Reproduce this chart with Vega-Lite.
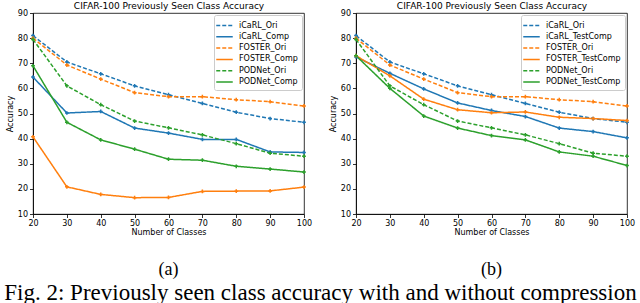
{
  "$schema": "https://vega.github.io/schema/vega-lite/v6.json",
  "padding": {"left": 4, "top": 0, "right": 0, "bottom": 0},
  "background": "white",
  "spacing": 15,
  "title": {"text": "Fig. 2: Previously seen class accuracy with and without compression", "orient": "bottom", "anchor": "middle", "font": "Liberation Serif", "fontSize": 23, "fontWeight": "normal", "color": "black", "offset": 3},
  "datasets": {
    "d": [
      {"panel": "a", "series": "iCaRL_Ori", "classes": 20, "acc": 81},
      {"panel": "a", "series": "iCaRL_Ori", "classes": 30, "acc": 70.5},
      {"panel": "a", "series": "iCaRL_Ori", "classes": 40, "acc": 65.8},
      {"panel": "a", "series": "iCaRL_Ori", "classes": 50, "acc": 61},
      {"panel": "a", "series": "iCaRL_Ori", "classes": 60, "acc": 57.5},
      {"panel": "a", "series": "iCaRL_Ori", "classes": 70, "acc": 54},
      {"panel": "a", "series": "iCaRL_Ori", "classes": 80, "acc": 50.5},
      {"panel": "a", "series": "iCaRL_Ori", "classes": 90, "acc": 48},
      {"panel": "a", "series": "iCaRL_Ori", "classes": 100, "acc": 46.5},
      {"panel": "a", "series": "iCaRL_Comp", "classes": 20, "acc": 64.5},
      {"panel": "a", "series": "iCaRL_Comp", "classes": 30, "acc": 50.2},
      {"panel": "a", "series": "iCaRL_Comp", "classes": 40, "acc": 50.8},
      {"panel": "a", "series": "iCaRL_Comp", "classes": 50, "acc": 44.2},
      {"panel": "a", "series": "iCaRL_Comp", "classes": 60, "acc": 42.2},
      {"panel": "a", "series": "iCaRL_Comp", "classes": 70, "acc": 39.7},
      {"panel": "a", "series": "iCaRL_Comp", "classes": 80, "acc": 39.7},
      {"panel": "a", "series": "iCaRL_Comp", "classes": 90, "acc": 34.7},
      {"panel": "a", "series": "iCaRL_Comp", "classes": 100, "acc": 34.5},
      {"panel": "a", "series": "FOSTER_Ori", "classes": 20, "acc": 80},
      {"panel": "a", "series": "FOSTER_Ori", "classes": 30, "acc": 69.3},
      {"panel": "a", "series": "FOSTER_Ori", "classes": 40, "acc": 63.7},
      {"panel": "a", "series": "FOSTER_Ori", "classes": 50, "acc": 58.3},
      {"panel": "a", "series": "FOSTER_Ori", "classes": 60, "acc": 56.7},
      {"panel": "a", "series": "FOSTER_Ori", "classes": 70, "acc": 56.7},
      {"panel": "a", "series": "FOSTER_Ori", "classes": 80, "acc": 55.5},
      {"panel": "a", "series": "FOSTER_Ori", "classes": 90, "acc": 54.7},
      {"panel": "a", "series": "FOSTER_Ori", "classes": 100, "acc": 53},
      {"panel": "a", "series": "FOSTER_Comp", "classes": 20, "acc": 40.7},
      {"panel": "a", "series": "FOSTER_Comp", "classes": 30, "acc": 20.8},
      {"panel": "a", "series": "FOSTER_Comp", "classes": 40, "acc": 17.8},
      {"panel": "a", "series": "FOSTER_Comp", "classes": 50, "acc": 16.5},
      {"panel": "a", "series": "FOSTER_Comp", "classes": 60, "acc": 16.6},
      {"panel": "a", "series": "FOSTER_Comp", "classes": 70, "acc": 19},
      {"panel": "a", "series": "FOSTER_Comp", "classes": 80, "acc": 19.1},
      {"panel": "a", "series": "FOSTER_Comp", "classes": 90, "acc": 19.2},
      {"panel": "a", "series": "FOSTER_Comp", "classes": 100, "acc": 20.7},
      {"panel": "a", "series": "PODNet_Ori", "classes": 20, "acc": 79.5},
      {"panel": "a", "series": "PODNet_Ori", "classes": 30, "acc": 61},
      {"panel": "a", "series": "PODNet_Ori", "classes": 40, "acc": 53.5},
      {"panel": "a", "series": "PODNet_Ori", "classes": 50, "acc": 47},
      {"panel": "a", "series": "PODNet_Ori", "classes": 60, "acc": 44.3},
      {"panel": "a", "series": "PODNet_Ori", "classes": 70, "acc": 41.5},
      {"panel": "a", "series": "PODNet_Ori", "classes": 80, "acc": 38},
      {"panel": "a", "series": "PODNet_Ori", "classes": 90, "acc": 34.2},
      {"panel": "a", "series": "PODNet_Ori", "classes": 100, "acc": 33},
      {"panel": "a", "series": "PODNet_Comp", "classes": 20, "acc": 69},
      {"panel": "a", "series": "PODNet_Comp", "classes": 30, "acc": 46.5},
      {"panel": "a", "series": "PODNet_Comp", "classes": 40, "acc": 39.5},
      {"panel": "a", "series": "PODNet_Comp", "classes": 50, "acc": 35.8},
      {"panel": "a", "series": "PODNet_Comp", "classes": 60, "acc": 31.8},
      {"panel": "a", "series": "PODNet_Comp", "classes": 70, "acc": 31.4},
      {"panel": "a", "series": "PODNet_Comp", "classes": 80, "acc": 29},
      {"panel": "a", "series": "PODNet_Comp", "classes": 90, "acc": 27.9},
      {"panel": "a", "series": "PODNet_Comp", "classes": 100, "acc": 26.7},
      {"panel": "b", "series": "iCaRL_Ori", "classes": 20, "acc": 81},
      {"panel": "b", "series": "iCaRL_Ori", "classes": 30, "acc": 70.5},
      {"panel": "b", "series": "iCaRL_Ori", "classes": 40, "acc": 65.8},
      {"panel": "b", "series": "iCaRL_Ori", "classes": 50, "acc": 61},
      {"panel": "b", "series": "iCaRL_Ori", "classes": 60, "acc": 57.5},
      {"panel": "b", "series": "iCaRL_Ori", "classes": 70, "acc": 54},
      {"panel": "b", "series": "iCaRL_Ori", "classes": 80, "acc": 50.5},
      {"panel": "b", "series": "iCaRL_Ori", "classes": 90, "acc": 48},
      {"panel": "b", "series": "iCaRL_Ori", "classes": 100, "acc": 46.5},
      {"panel": "b", "series": "iCaRL_TestComp", "classes": 20, "acc": 72.5},
      {"panel": "b", "series": "iCaRL_TestComp", "classes": 30, "acc": 66},
      {"panel": "b", "series": "iCaRL_TestComp", "classes": 40, "acc": 59.8},
      {"panel": "b", "series": "iCaRL_TestComp", "classes": 50, "acc": 54.2},
      {"panel": "b", "series": "iCaRL_TestComp", "classes": 60, "acc": 51.2},
      {"panel": "b", "series": "iCaRL_TestComp", "classes": 70, "acc": 48.8},
      {"panel": "b", "series": "iCaRL_TestComp", "classes": 80, "acc": 44.2},
      {"panel": "b", "series": "iCaRL_TestComp", "classes": 90, "acc": 42.8},
      {"panel": "b", "series": "iCaRL_TestComp", "classes": 100, "acc": 40.3},
      {"panel": "b", "series": "FOSTER_Ori", "classes": 20, "acc": 80},
      {"panel": "b", "series": "FOSTER_Ori", "classes": 30, "acc": 69.3},
      {"panel": "b", "series": "FOSTER_Ori", "classes": 40, "acc": 63.7},
      {"panel": "b", "series": "FOSTER_Ori", "classes": 50, "acc": 58.3},
      {"panel": "b", "series": "FOSTER_Ori", "classes": 60, "acc": 56.7},
      {"panel": "b", "series": "FOSTER_Ori", "classes": 70, "acc": 56.7},
      {"panel": "b", "series": "FOSTER_Ori", "classes": 80, "acc": 55.5},
      {"panel": "b", "series": "FOSTER_Ori", "classes": 90, "acc": 54.7},
      {"panel": "b", "series": "FOSTER_Ori", "classes": 100, "acc": 53},
      {"panel": "b", "series": "FOSTER_TestComp", "classes": 20, "acc": 73},
      {"panel": "b", "series": "FOSTER_TestComp", "classes": 30, "acc": 65},
      {"panel": "b", "series": "FOSTER_TestComp", "classes": 40, "acc": 55.7},
      {"panel": "b", "series": "FOSTER_TestComp", "classes": 50, "acc": 51.5},
      {"panel": "b", "series": "FOSTER_TestComp", "classes": 60, "acc": 50.3},
      {"panel": "b", "series": "FOSTER_TestComp", "classes": 70, "acc": 50.6},
      {"panel": "b", "series": "FOSTER_TestComp", "classes": 80, "acc": 48.5},
      {"panel": "b", "series": "FOSTER_TestComp", "classes": 90, "acc": 48},
      {"panel": "b", "series": "FOSTER_TestComp", "classes": 100, "acc": 47.2},
      {"panel": "b", "series": "PODNet_Ori", "classes": 20, "acc": 79.5},
      {"panel": "b", "series": "PODNet_Ori", "classes": 30, "acc": 61},
      {"panel": "b", "series": "PODNet_Ori", "classes": 40, "acc": 53.5},
      {"panel": "b", "series": "PODNet_Ori", "classes": 50, "acc": 47},
      {"panel": "b", "series": "PODNet_Ori", "classes": 60, "acc": 44.3},
      {"panel": "b", "series": "PODNet_Ori", "classes": 70, "acc": 41.5},
      {"panel": "b", "series": "PODNet_Ori", "classes": 80, "acc": 38},
      {"panel": "b", "series": "PODNet_Ori", "classes": 90, "acc": 34.2},
      {"panel": "b", "series": "PODNet_Ori", "classes": 100, "acc": 33},
      {"panel": "b", "series": "PODNet_TestComp", "classes": 20, "acc": 73},
      {"panel": "b", "series": "PODNet_TestComp", "classes": 30, "acc": 60},
      {"panel": "b", "series": "PODNet_TestComp", "classes": 40, "acc": 49},
      {"panel": "b", "series": "PODNet_TestComp", "classes": 50, "acc": 44.2},
      {"panel": "b", "series": "PODNet_TestComp", "classes": 60, "acc": 41.2},
      {"panel": "b", "series": "PODNet_TestComp", "classes": 70, "acc": 39.5},
      {"panel": "b", "series": "PODNet_TestComp", "classes": 80, "acc": 34.7},
      {"panel": "b", "series": "PODNet_TestComp", "classes": 90, "acc": 33},
      {"panel": "b", "series": "PODNet_TestComp", "classes": 100, "acc": 29.3}
    ]
  },
  "data": {"name": "d"},
  "resolve": {"scale": {"color": "independent", "strokeDash": "independent"}, "legend": {"color": "independent", "strokeDash": "independent"}},
  "hconcat": [
    {
      "width": 271,
      "height": 201,
      "title": {"text": "(a)", "orient": "bottom", "anchor": "middle", "font": "Liberation Serif", "fontSize": 18, "fontWeight": "normal", "color": "black", "offset": 24},
      "transform": [{"filter": "datum.panel === 'a'"}],
      "resolve": {"axis": {"x": "independent"}},
      "layer": [
        {
          "mark": {"type": "line", "strokeWidth": 1.5},
          "encoding": {
            "x": {"field": "classes", "type": "quantitative", "scale": {"domain": [20, 100], "nice": false}, "axis": {"values": [20, 30, 40, 50, 60, 70, 80, 90, 100], "title": "Number of Classes"}},
            "y": {"field": "acc", "type": "quantitative", "scale": {"domain": [10, 90], "nice": false, "zero": false}, "axis": {"values": [10, 20, 30, 40, 50, 60, 70, 80, 90], "title": "Accuracy"}},
            "color": {"field": "series", "type": "nominal", "scale": {"domain": ["iCaRL_Ori", "iCaRL_Comp", "FOSTER_Ori", "FOSTER_Comp", "PODNet_Ori", "PODNet_Comp"], "range": ["#1f77b4", "#1f77b4", "#ff7f0e", "#ff7f0e", "#2ca02c", "#2ca02c"]}, "legend": {"title": null}},
            "strokeDash": {"field": "series", "type": "nominal", "scale": {"domain": ["iCaRL_Ori", "iCaRL_Comp", "FOSTER_Ori", "FOSTER_Comp", "PODNet_Ori", "PODNet_Comp"], "range": [[4, 2], [1, 0], [4, 2], [1, 0], [4, 2], [1, 0]]}, "legend": {"title": null}}
          }
        },
        {
          "mark": {"type": "point", "shape": "cross", "size": 14, "filled": true, "opacity": 1},
          "encoding": {
            "x": {"field": "classes", "type": "quantitative", "scale": {"domain": [20, 100], "nice": false}, "axis": {"orient": "top", "title": "CIFAR-100 Previously Seen Class Accuracy", "labels": false, "ticks": false, "domain": false, "titleFontSize": 9, "titlePadding": 3}},
            "y": {"field": "acc", "type": "quantitative", "scale": {"domain": [10, 90], "nice": false, "zero": false}, "axis": {"values": [10, 20, 30, 40, 50, 60, 70, 80, 90], "title": "Accuracy"}},
            "color": {"field": "series", "type": "nominal", "scale": {"domain": ["iCaRL_Ori", "iCaRL_Comp", "FOSTER_Ori", "FOSTER_Comp", "PODNet_Ori", "PODNet_Comp"], "range": ["#1f77b4", "#1f77b4", "#ff7f0e", "#ff7f0e", "#2ca02c", "#2ca02c"]}, "legend": {"title": null}}
          }
        }
      ]
    },
    {
      "width": 271,
      "height": 201,
      "title": {"text": "(b)", "orient": "bottom", "anchor": "middle", "font": "Liberation Serif", "fontSize": 18, "fontWeight": "normal", "color": "black", "offset": 24},
      "transform": [{"filter": "datum.panel === 'b'"}],
      "resolve": {"axis": {"x": "independent"}},
      "layer": [
        {
          "mark": {"type": "line", "strokeWidth": 1.5},
          "encoding": {
            "x": {"field": "classes", "type": "quantitative", "scale": {"domain": [20, 100], "nice": false}, "axis": {"values": [20, 30, 40, 50, 60, 70, 80, 90, 100], "title": "Number of Classes"}},
            "y": {"field": "acc", "type": "quantitative", "scale": {"domain": [10, 90], "nice": false, "zero": false}, "axis": {"values": [10, 20, 30, 40, 50, 60, 70, 80, 90], "title": "Accuracy"}},
            "color": {"field": "series", "type": "nominal", "scale": {"domain": ["iCaRL_Ori", "iCaRL_TestComp", "FOSTER_Ori", "FOSTER_TestComp", "PODNet_Ori", "PODNet_TestComp"], "range": ["#1f77b4", "#1f77b4", "#ff7f0e", "#ff7f0e", "#2ca02c", "#2ca02c"]}, "legend": {"title": null}},
            "strokeDash": {"field": "series", "type": "nominal", "scale": {"domain": ["iCaRL_Ori", "iCaRL_TestComp", "FOSTER_Ori", "FOSTER_TestComp", "PODNet_Ori", "PODNet_TestComp"], "range": [[4, 2], [1, 0], [4, 2], [1, 0], [4, 2], [1, 0]]}, "legend": {"title": null}}
          }
        },
        {
          "mark": {"type": "point", "shape": "cross", "size": 14, "filled": true, "opacity": 1},
          "encoding": {
            "x": {"field": "classes", "type": "quantitative", "scale": {"domain": [20, 100], "nice": false}, "axis": {"orient": "top", "title": "CIFAR-100 Previously Seen Class Accuracy", "labels": false, "ticks": false, "domain": false, "titleFontSize": 9, "titlePadding": 3}},
            "y": {"field": "acc", "type": "quantitative", "scale": {"domain": [10, 90], "nice": false, "zero": false}, "axis": {"values": [10, 20, 30, 40, 50, 60, 70, 80, 90], "title": "Accuracy"}},
            "color": {"field": "series", "type": "nominal", "scale": {"domain": ["iCaRL_Ori", "iCaRL_TestComp", "FOSTER_Ori", "FOSTER_TestComp", "PODNet_Ori", "PODNet_TestComp"], "range": ["#1f77b4", "#1f77b4", "#ff7f0e", "#ff7f0e", "#2ca02c", "#2ca02c"]}, "legend": {"title": null}}
          }
        }
      ]
    }
  ],
  "config": {
    "font": "DejaVu Sans",
    "view": {"stroke": "black", "strokeWidth": 0.8},
    "axis": {"grid": false, "domainColor": "black", "domainWidth": 0.8, "tickColor": "black", "tickWidth": 0.8, "tickSize": 3.5, "labelFont": "DejaVu Sans", "labelFontSize": 8, "labelColor": "black", "labelPadding": 2, "titleFont": "DejaVu Sans", "titleFontSize": 8, "titleFontWeight": "normal", "titleColor": "black", "titlePadding": 1, "labelFlush": false, "labelOverlap": false},
    "axisY": {"titlePadding": 3},
    "legend": {"orient": "top-right", "offset": 2, "strokeColor": "#cccccc", "fillColor": "white", "cornerRadius": 2, "padding": 4, "labelFont": "DejaVu Sans", "labelFontSize": 8, "labelColor": "black", "symbolType": "M-1.5,0H1.5", "symbolSize": 121, "symbolStrokeWidth": 1.5, "rowPadding": 0.3, "labelOffset": 8}
  }
}
